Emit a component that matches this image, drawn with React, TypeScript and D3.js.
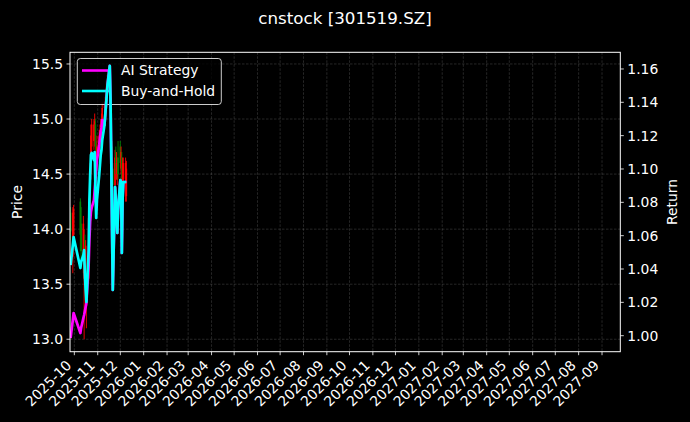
import React from "react";
import * as d3 from "d3";

const dates = ["2025-09-26","2025-09-29","2025-09-30","2025-10-09","2025-10-10","2025-10-13","2025-10-14","2025-10-15","2025-10-16","2025-10-17","2025-10-20","2025-10-21","2025-10-22","2025-10-23","2025-10-24","2025-10-27","2025-10-28","2025-10-29","2025-10-30","2025-10-31","2025-11-03","2025-11-04","2025-11-05","2025-11-06","2025-11-07","2025-11-10","2025-11-11","2025-11-12","2025-11-13","2025-11-14","2025-11-17","2025-11-18","2025-11-19","2025-11-20","2025-11-21","2025-11-24","2025-11-25","2025-11-26","2025-11-27","2025-11-28","2025-12-01","2025-12-02","2025-12-03","2025-12-04","2025-12-05","2025-12-08","2025-12-09"];
const openP = [14.15,13.75,13.95,14.25,14.05,13.75,13.55,13.9,13.6,13.3,13.55,14.15,14.05,14.5,14.75,14.8,14.85,14.95,14.75,14.6,14.7,14.8,14.85,14.9,15.0,15.1,15.15,15.2,15.25,15.3,15.35,15.4,15.1,14.75,14.55,14.4,14.7,14.5,14.45,14.65,14.75,14.55,14.65,14.4,14.45,14.45,14.3];
const closeP = [13.98,14.15,14.18,13.95,13.8,14.05,13.9,13.7,13.85,13.55,14.1,14.0,14.55,14.85,14.95,14.95,14.98,14.75,14.55,14.75,14.85,14.9,14.95,15.0,15.1,15.15,15.2,15.3,15.35,15.4,15.45,15.1,14.75,14.5,14.4,14.65,14.55,14.6,14.6,14.5,14.6,14.7,14.4,14.6,14.6,14.6,14.55];
const highP = [14.2,14.2,14.22,14.28,14.2,14.12,14.0,13.95,13.9,13.6,14.15,14.25,14.6,14.95,15.0,15.0,15.05,15.0,14.8,14.85,14.9,14.95,15.0,15.05,15.15,15.2,15.25,15.35,15.4,15.45,15.48,15.45,15.15,14.8,14.6,14.72,14.75,14.7,14.65,14.8,14.8,14.75,14.7,14.65,14.65,14.65,14.62];
const lowP = [13.9,13.6,13.9,13.8,13.7,13.6,13.0,13.5,13.3,13.1,13.5,13.9,14.0,14.45,14.7,14.72,14.75,14.7,14.5,14.55,14.65,14.75,14.8,14.8,14.95,15.0,15.1,15.15,15.2,15.25,15.3,15.0,14.65,14.4,14.3,14.35,14.5,14.45,14.4,14.45,14.55,14.5,14.35,14.35,14.4,14.25,14.25];
const buyHold = [1.0424,1.0544,1.0592,1.0406,1.0442,1.0484,1.0514,1.0364,1.0274,1.0202,1.0514,1.0814,1.0964,1.1084,1.1096,1.1054,1.1102,1.0874,1.0706,1.0814,1.0964,1.1024,1.1084,1.1114,1.1174,1.1264,1.1324,1.1384,1.1444,1.1504,1.1619,1.1414,1.1054,1.0634,1.0274,1.0892,1.0814,1.0724,1.0616,1.0754,1.0934,1.0922,1.0496,1.0814,1.0922,1.0922,1.0922];
const aiStrategy = [0.9986,1.0094,1.0136,1.0016,1.0046,1.0106,1.0124,1.0148,1.0172,1.0196,1.0424,1.0574,1.0682,1.0742,1.0766,1.0814,1.0874,1.0934,1.0994,1.1054,1.1144,1.1186,1.1222,1.1246,1.1294,1.1264,1.1324,1.1384,1.1444,1.1504,1.1619,1.1414,1.1054,1.0634,1.0274,1.0892,1.0814,1.0724,1.0616,1.0754,1.0934,1.0922,1.0496,1.0814,1.0922,1.0922,1.0922];
const priceTicks = [13.0, 13.5, 14.0, 14.5, 15.0, 15.5];
const returnTicks = [1.0, 1.02, 1.04, 1.06, 1.08, 1.1, 1.12, 1.14, 1.16];
const titleText = "cnstock [301519.SZ]";
const seriesNames = ["AI Strategy", "Buy-and-Hold"];

const W = 690, H = 422;
const L = 70, R = 620.3, T = 52.3, B = 351.7;
const FONT = "DejaVu Sans, sans-serif";
const FS = 13.9;

export default function App() {
  const parse = d3.timeParse("%Y-%m-%d");
  const dts = dates.map((d) => parse(d) as Date);
  const x = d3.scaleTime().domain([new Date(2025, 8, 25, 6), new Date(2027, 8, 25, 6)]).range([L, R]);
  const yL = d3.scaleLinear().domain([12.887, 15.606]).range([B, T]);
  const yR = d3.scaleLinear().domain([0.9904, 1.17]).range([B, T]);
  const monthTicks = d3.timeMonth.range(new Date(2025, 9, 1), new Date(2027, 8, 2));
  const fmtMonth = d3.timeFormat("%Y-%m");

  const lineGen = (vals: number[]) =>
    d3.line<number>().x((_, i) => x(dts[i])).y((v) => yR(v))(vals) || "";

  const grid = "rgba(255,255,255,0.25)";
  return (
    <svg width={W} height={H} style={{ position: "absolute", left: 0, top: 0, background: "#000" }} fontFamily={FONT}>
      <rect x={0} y={0} width={W} height={H} fill="#000" />
      <defs>
        <clipPath id="plot"><rect x={L} y={T} width={R - L} height={B - T} /></clipPath>
      </defs>
      {monthTicks.map((m, i) => (
        <line key={"gx" + i} x1={x(m)} x2={x(m)} y1={T} y2={B} stroke={grid} strokeWidth={0.6} strokeDasharray="2.5,1.5" />
      ))}
      {priceTicks.map((p, i) => (
        <line key={"gy" + i} x1={L} x2={R} y1={yL(p)} y2={yL(p)} stroke={grid} strokeWidth={0.6} strokeDasharray="2.5,1.5" />
      ))}
      <g clipPath="url(#plot)">
        {dts.map((d, i) => {
          const up = closeP[i] >= openP[i];
          const c = up ? "#ff0000" : "#008000";
          const cx = x(d);
          const top = yL(Math.max(openP[i], closeP[i]));
          const bot = yL(Math.min(openP[i], closeP[i]));
          return (
            <g key={"c" + i}>
              <line x1={cx} x2={cx} y1={yL(highP[i])} y2={yL(lowP[i])} stroke={c} strokeWidth={0.9} />
              <rect x={cx - 0.8} y={top} width={1.6} height={Math.max(0.8, bot - top)} fill={c} />
            </g>
          );
        })}
      </g>
      <g>
        <rect x={77.3} y={58.5} width={144} height={46} rx={3} fill="rgba(0,0,0,0.8)" stroke="rgba(255,255,255,0.8)" strokeWidth={1} />
        <line x1={82} x2={110} y1={70.5} y2={70.5} stroke="#ff00ff" strokeWidth={2.6} />
        <text x={121} y={70.5} dy="0.35em" fill="#fff" fontSize={FS}>{seriesNames[0]}</text>
        <line x1={82} x2={110} y1={91} y2={91} stroke="#00ffff" strokeWidth={2.6} />
        <text x={121} y={91} dy="0.35em" fill="#fff" fontSize={FS}>{seriesNames[1]}</text>
      </g>
      <g clipPath="url(#plot)">
        <path d={lineGen(aiStrategy)} fill="none" stroke="#ff00ff" strokeWidth={2.7} strokeLinejoin="round" />
        <path d={lineGen(buyHold)} fill="none" stroke="#00ffff" strokeWidth={2.7} strokeLinejoin="round" />
      </g>
      <rect x={L} y={T} width={R - L} height={B - T} fill="none" stroke="#fff" strokeWidth={1} />
      {monthTicks.map((m, i) => {
        const tx = x(m);
        return (
          <g key={"xt" + i}>
            <line x1={tx} x2={tx} y1={B} y2={B + 3.5} stroke="#fff" strokeWidth={0.8} />
            <text transform={`translate(${tx - 2},${B + 14.5}) rotate(-45)`} textAnchor="end" fill="#fff" fontSize={FS}>{fmtMonth(m)}</text>
          </g>
        );
      })}
      {priceTicks.map((p, i) => (
        <g key={"yl" + i}>
          <line x1={L - 3.5} x2={L} y1={yL(p)} y2={yL(p)} stroke="#fff" strokeWidth={0.8} />
          <text x={L - 7} y={yL(p)} dy="0.35em" textAnchor="end" fill="#fff" fontSize={FS}>{p.toFixed(1)}</text>
        </g>
      ))}
      {returnTicks.map((r, i) => (
        <g key={"yr" + i}>
          <line x1={R} x2={R + 3.5} y1={yR(r)} y2={yR(r)} stroke="#fff" strokeWidth={0.8} />
          <text x={R + 7} y={yR(r)} dy="0.35em" textAnchor="start" fill="#fff" fontSize={FS}>{r.toFixed(2)}</text>
        </g>
      ))}
      <text transform={`translate(17,${(T + B) / 2}) rotate(-90)`} textAnchor="middle" dy="0.35em" fill="#fff" fontSize={FS}>Price</text>
      <text transform={`translate(672,${(T + B) / 2}) rotate(-90)`} textAnchor="middle" dy="0.35em" fill="#fff" fontSize={FS}>Return</text>
      <text x={W / 2} y={18} dy="0.35em" textAnchor="middle" fill="#fff" fontSize={16.7}>{titleText}</text>
    </svg>
  );
}
